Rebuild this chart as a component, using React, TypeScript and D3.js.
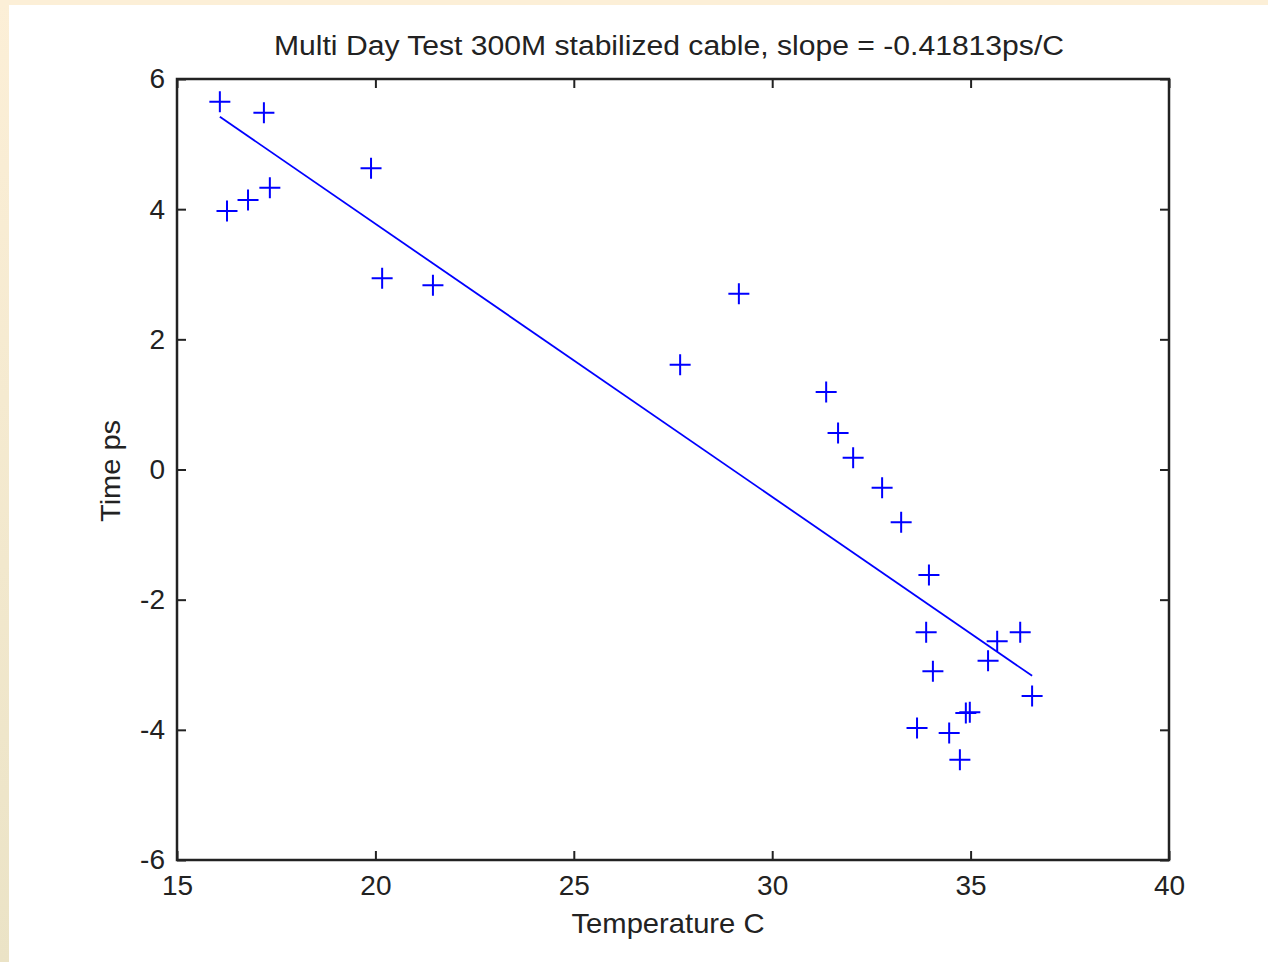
import React, { useEffect, useRef } from "react";
import { select, scaleLinear, axisBottom, axisLeft, axisTop, axisRight, line } from "d3";

// measured temperature (C) and time offset (ps)
const tempC = [
  16.08, 17.19, 16.26, 16.79, 17.34, 19.89, 20.17, 21.45, 27.68, 29.16,
  31.36, 31.66, 32.04, 32.77, 33.25, 33.95, 33.88, 35.67, 36.25, 35.44,
  34.05, 36.55, 33.65, 34.46, 34.88, 34.98, 34.73
];
const timePs = [
  5.65, 5.48, 3.97, 4.14, 4.33, 4.63, 2.94, 2.83, 1.61, 2.7,
  1.19, 0.56, 0.18, -0.28, -0.81, -1.62, -2.5, -2.64, -2.5, -2.94,
  -3.1, -3.48, -3.97, -4.05, -3.74, -3.73, -4.46
];
// fitted line end points
const fitX = [16.08, 36.55];
const fitY = [5.42, -3.17];

const xTicks = [15, 20, 25, 30, 35, 40];
const yTicks = [-6, -4, -2, 0, 2, 4, 6];

const titleText = "Multi Day Test 300M stabilized cable, slope = -0.41813ps/C";
const xLabel = "Temperature C";
const yLabel = "Time ps";

const W = 1268;
const H = 962;
const FONT = "'Liberation Sans', Arial, sans-serif";

function ScatterFit() {
  const svgRef = useRef(null);

  useEffect(() => {
    const svg = select(svgRef.current);
    const left = 177, right = 1169, top = 79, bottom = 860;

    const x = scaleLinear().domain([15, 40]).range([left, right]);
    const y = scaleLinear().domain([-6, 6]).range([bottom, top]);
    const fmt = d => String(d); // plain hyphen minus like the original

    const plot = svg.select(".plot");
    plot.selectAll("*").remove();

    // axes, ticks point inward
    const styleAxis = (g, showLabels) => {
      g.select(".domain").remove();
      g.selectAll(".tick line").attr("stroke", "#222").attr("stroke-width", 2);
      g.selectAll(".tick text")
        .attr("fill", "#222")
        .attr("font-family", FONT)
        .attr("font-size", 28)
        .style("display", showLabels ? null : "none");
    };

    plot.append("g")
      .attr("transform", `translate(0,${bottom})`)
      .call(axisBottom(x).tickValues(xTicks).tickFormat(fmt).tickSizeInner(-9).tickSizeOuter(0))
      .call(g => styleAxis(g, true))
      .call(g => g.selectAll(".tick text").attr("dy", "0.71em").attr("y", 15));

    plot.append("g")
      .attr("transform", `translate(0,${top})`)
      .call(axisTop(x).tickValues(xTicks).tickSizeInner(-9).tickSizeOuter(0))
      .call(g => styleAxis(g, false));

    plot.append("g")
      .attr("transform", `translate(${left},0)`)
      .call(axisLeft(y).tickValues(yTicks).tickFormat(fmt).tickSizeInner(-9).tickSizeOuter(0))
      .call(g => styleAxis(g, true))
      .call(g => g.selectAll(".tick text").attr("x", -12));

    plot.append("g")
      .attr("transform", `translate(${right},0)`)
      .call(axisRight(y).tickValues(yTicks).tickSizeInner(-9).tickSizeOuter(0))
      .call(g => styleAxis(g, false));

    // frame
    plot.append("rect")
      .attr("x", left)
      .attr("y", top)
      .attr("width", right - left)
      .attr("height", bottom - top)
      .attr("fill", "none")
      .attr("stroke", "#222")
      .attr("stroke-width", 2.5);

    // fit line
    const fit = fitX.map((v, i) => [v, fitY[i]]);
    plot.append("path")
      .attr("d", line().x(d => x(d[0])).y(d => y(d[1]))(fit))
      .attr("fill", "none")
      .attr("stroke", "#0000ff")
      .attr("stroke-width", 1.8);

    // plus markers
    const pts = tempC.map((v, i) => [v, timePs[i]]);
    const r = 10.5;
    plot.append("g")
      .selectAll("path")
      .data(pts)
      .join("path")
      .attr("d", d => {
        const cx = x(d[0]), cy = y(d[1]);
        return `M${cx - r},${cy}H${cx + r}M${cx},${cy - r}V${cy + r}`;
      })
      .attr("stroke", "#0000ff")
      .attr("stroke-width", 2)
      .attr("fill", "none");

    // labels
    plot.append("text")
      .attr("x", 669)
      .attr("y", 55)
      .attr("text-anchor", "middle")
      .attr("font-family", FONT)
      .attr("font-size", 27)
      .attr("fill", "#222")
      .attr("textLength", 790)
      .attr("lengthAdjust", "spacingAndGlyphs")
      .text(titleText);

    plot.append("text")
      .attr("x", 668)
      .attr("y", 933)
      .attr("text-anchor", "middle")
      .attr("font-family", FONT)
      .attr("font-size", 28)
      .attr("fill", "#222")
      .attr("textLength", 193)
      .attr("lengthAdjust", "spacingAndGlyphs")
      .text(xLabel);

    plot.append("text")
      .attr("transform", `translate(120,471) rotate(-90)`)
      .attr("text-anchor", "middle")
      .attr("font-family", FONT)
      .attr("font-size", 28)
      .attr("fill", "#222")
      .attr("textLength", 102)
      .attr("lengthAdjust", "spacingAndGlyphs")
      .text(yLabel);
  }, []);

  return (
    <svg
      ref={svgRef}
      width={W}
      height={H}
      style={{ position: "absolute", left: 0, top: 0, display: "block" }}
    >
      <defs>
        <linearGradient id="edge" x1="0" y1="0" x2="0" y2="1">
          <stop offset="0" stopColor="#fcefd7" />
          <stop offset="1" stopColor="#ebe3c6" />
        </linearGradient>
      </defs>
      <rect x={0} y={0} width={W} height={H} fill="url(#edge)" />
      <rect x={0} y={0} width={W} height={5} fill="#fcefd7" />
      <rect x={9} y={5} width={W - 9} height={H - 5} fill="#ffffff" />
      <g className="plot" />
    </svg>
  );
}

export default function App() {
  return <ScatterFit />;
}
